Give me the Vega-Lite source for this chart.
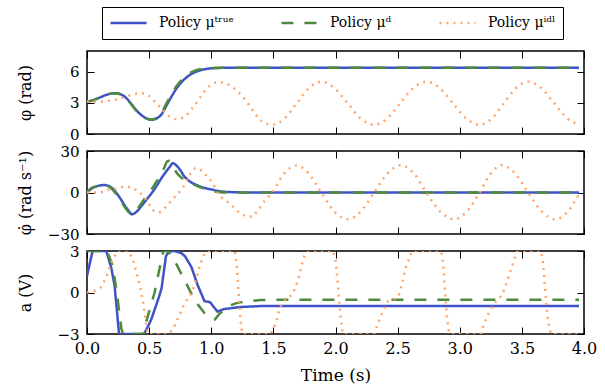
{
  "$schema": "https://vega.github.io/schema/vega-lite/v6.json",
  "background": "white",
  "padding": {"left": 16, "top": 6, "right": 5, "bottom": 3},
  "config": {
    "font": "DejaVu Serif, Liberation Serif, Times New Roman, serif",
    "view": {"stroke": "black", "strokeWidth": 1.5},
    "axis": {
      "grid": false, "domain": false, "ticks": true, "tickSize": -7, "tickColor": "black", "tickWidth": 1,
      "labelFont": "DejaVu Serif, Liberation Serif, Times New Roman, serif", "labelFontSize": 16, "labelColor": "black", "labelPadding": 15, "labelFlush": false,
      "titleFont": "DejaVu Serif, Liberation Serif, Times New Roman, serif", "titleFontSize": 16, "titleFontWeight": "normal", "titleColor": "black"
    },
    "axisY": {"labelFontSize": 15},
    "legend": {
      "symbolType": "stroke", "symbolSize": 1300, "symbolStrokeWidth": 2.5, "clipHeight": 18,
      "labelFont": "DejaVu Serif, Liberation Serif, Times New Roman, serif", "labelFontSize": 14, "labelColor": "black", "labelOffset": 11,
      "strokeColor": "black", "fillColor": "white", "padding": 7, "columnPadding": 46, "cornerRadius": 0
    }
  },
  "datasets": {
    "phi": [
      {"p":"Policy μᵗʳᵘᵉ","t":0,"v":3.14},{"p":"Policy μᵗʳᵘᵉ","t":0.05,"v":3.25},{"p":"Policy μᵗʳᵘᵉ","t":0.1,"v":3.5},{"p":"Policy μᵗʳᵘᵉ","t":0.15,"v":3.75},{"p":"Policy μᵗʳᵘᵉ","t":0.2,"v":3.9},{"p":"Policy μᵗʳᵘᵉ","t":0.24,"v":3.92},{"p":"Policy μᵗʳᵘᵉ","t":0.28,"v":3.78},{"p":"Policy μᵗʳᵘᵉ","t":0.32,"v":3.42},{"p":"Policy μᵗʳᵘᵉ","t":0.36,"v":2.85},{"p":"Policy μᵗʳᵘᵉ","t":0.4,"v":2.25},{"p":"Policy μᵗʳᵘᵉ","t":0.44,"v":1.8},{"p":"Policy μᵗʳᵘᵉ","t":0.48,"v":1.5},{"p":"Policy μᵗʳᵘᵉ","t":0.52,"v":1.38},{"p":"Policy μᵗʳᵘᵉ","t":0.56,"v":1.5},{"p":"Policy μᵗʳᵘᵉ","t":0.6,"v":1.9},{"p":"Policy μᵗʳᵘᵉ","t":0.64,"v":2.75},{"p":"Policy μᵗʳᵘᵉ","t":0.68,"v":3.6},{"p":"Policy μᵗʳᵘᵉ","t":0.72,"v":4.38},{"p":"Policy μᵗʳᵘᵉ","t":0.76,"v":4.98},{"p":"Policy μᵗʳᵘᵉ","t":0.8,"v":5.45},{"p":"Policy μᵗʳᵘᵉ","t":0.85,"v":5.85},{"p":"Policy μᵗʳᵘᵉ","t":0.9,"v":6.1},{"p":"Policy μᵗʳᵘᵉ","t":0.95,"v":6.25},{"p":"Policy μᵗʳᵘᵉ","t":1.0,"v":6.33},{"p":"Policy μᵗʳᵘᵉ","t":1.1,"v":6.38},{"p":"Policy μᵗʳᵘᵉ","t":1.2,"v":6.39},{"p":"Policy μᵗʳᵘᵉ","t":2.0,"v":6.39},{"p":"Policy μᵗʳᵘᵉ","t":3.0,"v":6.39},{"p":"Policy μᵗʳᵘᵉ","t":3.96,"v":6.39},
      {"p":"Policy μᵈ","t":0,"v":3.14},{"p":"Policy μᵈ","t":0.05,"v":3.27},{"p":"Policy μᵈ","t":0.1,"v":3.52},{"p":"Policy μᵈ","t":0.15,"v":3.77},{"p":"Policy μᵈ","t":0.2,"v":3.9},{"p":"Policy μᵈ","t":0.24,"v":3.9},{"p":"Policy μᵈ","t":0.28,"v":3.75},{"p":"Policy μᵈ","t":0.32,"v":3.38},{"p":"Policy μᵈ","t":0.36,"v":2.8},{"p":"Policy μᵈ","t":0.4,"v":2.2},{"p":"Policy μᵈ","t":0.44,"v":1.76},{"p":"Policy μᵈ","t":0.48,"v":1.48},{"p":"Policy μᵈ","t":0.52,"v":1.4},{"p":"Policy μᵈ","t":0.56,"v":1.55},{"p":"Policy μᵈ","t":0.6,"v":2.05},{"p":"Policy μᵈ","t":0.64,"v":2.95},{"p":"Policy μᵈ","t":0.68,"v":3.85},{"p":"Policy μᵈ","t":0.72,"v":4.6},{"p":"Policy μᵈ","t":0.76,"v":5.2},{"p":"Policy μᵈ","t":0.8,"v":5.65},{"p":"Policy μᵈ","t":0.85,"v":6.02},{"p":"Policy μᵈ","t":0.9,"v":6.22},{"p":"Policy μᵈ","t":0.95,"v":6.32},{"p":"Policy μᵈ","t":1.0,"v":6.37},{"p":"Policy μᵈ","t":1.1,"v":6.39},{"p":"Policy μᵈ","t":2.0,"v":6.39},{"p":"Policy μᵈ","t":3.0,"v":6.39},{"p":"Policy μᵈ","t":3.96,"v":6.39},
      {"p":"Policy μⁱᵈˡ","t":0,"v":3.14},{"p":"Policy μⁱᵈˡ","t":0.06,"v":3.13},{"p":"Policy μⁱᵈˡ","t":0.12,"v":3.12},{"p":"Policy μⁱᵈˡ","t":0.188,"v":3.21},{"p":"Policy μⁱᵈˡ","t":0.249,"v":3.37},{"p":"Policy μⁱᵈˡ","t":0.316,"v":3.6},{"p":"Policy μⁱᵈˡ","t":0.37,"v":3.82},{"p":"Policy μⁱᵈˡ","t":0.437,"v":3.92},{"p":"Policy μⁱᵈˡ","t":0.498,"v":3.69},{"p":"Policy μⁱᵈˡ","t":0.544,"v":3.15},{"p":"Policy μⁱᵈˡ","t":0.589,"v":2.57},{"p":"Policy μⁱᵈˡ","t":0.632,"v":2.03},{"p":"Policy μⁱᵈˡ","t":0.686,"v":1.54},{"p":"Policy μⁱᵈˡ","t":0.72,"v":1.42},{"p":"Policy μⁱᵈˡ","t":0.75,"v":1.47},{"p":"Policy μⁱᵈˡ","t":0.798,"v":1.77},{"p":"Policy μⁱᵈˡ","t":0.839,"v":2.35},{"p":"Policy μⁱᵈˡ","t":0.879,"v":2.99},{"p":"Policy μⁱᵈˡ","t":0.911,"v":3.53},{"p":"Policy μⁱᵈˡ","t":0.951,"v":4.21},{"p":"Policy μⁱᵈˡ","t":1.0,"v":4.75},{"p":"Policy μⁱᵈˡ","t":1.058,"v":5.01},{"p":"Policy μⁱᵈˡ","t":1.12,"v":4.88},{"p":"Policy μⁱᵈˡ","t":1.173,"v":4.5},{"p":"Policy μⁱᵈˡ","t":1.219,"v":4.01},{"p":"Policy μⁱᵈˡ","t":1.265,"v":3.43},{"p":"Policy μⁱᵈˡ","t":1.302,"v":2.82},{"p":"Policy μⁱᵈˡ","t":1.34,"v":2.18},{"p":"Policy μⁱᵈˡ","t":1.38,"v":1.54},{"p":"Policy μⁱᵈˡ","t":1.43,"v":1.05},{"p":"Policy μⁱᵈˡ","t":1.49,"v":0.88},{"p":"Policy μⁱᵈˡ","t":1.589,"v":1.49},{"p":"Policy μⁱᵈˡ","t":1.688,"v":2.96},{"p":"Policy μⁱᵈˡ","t":1.786,"v":4.43},{"p":"Policy μⁱᵈˡ","t":1.885,"v":5.04},{"p":"Policy μⁱᵈˡ","t":1.991,"v":4.43},{"p":"Policy μⁱᵈˡ","t":2.098,"v":2.96},{"p":"Policy μⁱᵈˡ","t":2.204,"v":1.49},{"p":"Policy μⁱᵈˡ","t":2.31,"v":0.88},{"p":"Policy μⁱᵈˡ","t":2.415,"v":1.49},{"p":"Policy μⁱᵈˡ","t":2.52,"v":2.96},{"p":"Policy μⁱᵈˡ","t":2.625,"v":4.43},{"p":"Policy μⁱᵈˡ","t":2.73,"v":5.04},{"p":"Policy μⁱᵈˡ","t":2.838,"v":4.43},{"p":"Policy μⁱᵈˡ","t":2.945,"v":2.96},{"p":"Policy μⁱᵈˡ","t":3.053,"v":1.49},{"p":"Policy μⁱᵈˡ","t":3.16,"v":0.88},{"p":"Policy μⁱᵈˡ","t":3.258,"v":1.49},{"p":"Policy μⁱᵈˡ","t":3.355,"v":2.96},{"p":"Policy μⁱᵈˡ","t":3.453,"v":4.43},{"p":"Policy μⁱᵈˡ","t":3.55,"v":5.04},{"p":"Policy μⁱᵈˡ","t":3.655,"v":4.43},{"p":"Policy μⁱᵈˡ","t":3.76,"v":2.97},{"p":"Policy μⁱᵈˡ","t":3.865,"v":1.5},{"p":"Policy μⁱᵈˡ","t":3.96,"v":0.9}
    ],
    "dphi": [
      {"p":"Policy μᵗʳᵘᵉ","t":0,"v":0},{"p":"Policy μᵗʳᵘᵉ","t":0.04,"v":3},{"p":"Policy μᵗʳᵘᵉ","t":0.08,"v":4.6},{"p":"Policy μᵗʳᵘᵉ","t":0.14,"v":5.4},{"p":"Policy μᵗʳᵘᵉ","t":0.18,"v":4.5},{"p":"Policy μᵗʳᵘᵉ","t":0.22,"v":1.5},{"p":"Policy μᵗʳᵘᵉ","t":0.26,"v":-3.2},{"p":"Policy μᵗʳᵘᵉ","t":0.3,"v":-8.8},{"p":"Policy μᵗʳᵘᵉ","t":0.34,"v":-13.8},{"p":"Policy μᵗʳᵘᵉ","t":0.36,"v":-15.8},{"p":"Policy μᵗʳᵘᵉ","t":0.4,"v":-13.8},{"p":"Policy μᵗʳᵘᵉ","t":0.44,"v":-9.6},{"p":"Policy μᵗʳᵘᵉ","t":0.48,"v":-5},{"p":"Policy μᵗʳᵘᵉ","t":0.52,"v":-0.5},{"p":"Policy μᵗʳᵘᵉ","t":0.56,"v":4.7},{"p":"Policy μᵗʳᵘᵉ","t":0.6,"v":10.5},{"p":"Policy μᵗʳᵘᵉ","t":0.64,"v":15.5},{"p":"Policy μᵗʳᵘᵉ","t":0.67,"v":19},{"p":"Policy μᵗʳᵘᵉ","t":0.69,"v":21.2},{"p":"Policy μᵗʳᵘᵉ","t":0.72,"v":19.5},{"p":"Policy μᵗʳᵘᵉ","t":0.75,"v":16.3},{"p":"Policy μᵗʳᵘᵉ","t":0.78,"v":12},{"p":"Policy μᵗʳᵘᵉ","t":0.82,"v":8.5},{"p":"Policy μᵗʳᵘᵉ","t":0.88,"v":5.5},{"p":"Policy μᵗʳᵘᵉ","t":0.95,"v":3.2},{"p":"Policy μᵗʳᵘᵉ","t":1.0,"v":2.2},{"p":"Policy μᵗʳᵘᵉ","t":1.1,"v":0.6},{"p":"Policy μᵗʳᵘᵉ","t":1.2,"v":0.15},{"p":"Policy μᵗʳᵘᵉ","t":1.3,"v":0},{"p":"Policy μᵗʳᵘᵉ","t":2.0,"v":0},{"p":"Policy μᵗʳᵘᵉ","t":3.0,"v":0},{"p":"Policy μᵗʳᵘᵉ","t":3.96,"v":0},
      {"p":"Policy μᵈ","t":0,"v":0},{"p":"Policy μᵈ","t":0.04,"v":3.5},{"p":"Policy μᵈ","t":0.08,"v":4.4},{"p":"Policy μᵈ","t":0.14,"v":5},{"p":"Policy μᵈ","t":0.18,"v":4},{"p":"Policy μᵈ","t":0.22,"v":0.5},{"p":"Policy μᵈ","t":0.26,"v":-4.5},{"p":"Policy μᵈ","t":0.3,"v":-10},{"p":"Policy μᵈ","t":0.34,"v":-14.5},{"p":"Policy μᵈ","t":0.36,"v":-15.5},{"p":"Policy μᵈ","t":0.39,"v":-14},{"p":"Policy μᵈ","t":0.43,"v":-8.8},{"p":"Policy μᵈ","t":0.47,"v":-3.8},{"p":"Policy μᵈ","t":0.51,"v":1},{"p":"Policy μᵈ","t":0.55,"v":6.5},{"p":"Policy μᵈ","t":0.59,"v":12.5},{"p":"Policy μᵈ","t":0.62,"v":17.5},{"p":"Policy μᵈ","t":0.645,"v":22.5},{"p":"Policy μᵈ","t":0.665,"v":23},{"p":"Policy μᵈ","t":0.69,"v":19},{"p":"Policy μᵈ","t":0.72,"v":14.5},{"p":"Policy μᵈ","t":0.75,"v":11.5},{"p":"Policy μᵈ","t":0.8,"v":8.3},{"p":"Policy μᵈ","t":0.86,"v":5.8},{"p":"Policy μᵈ","t":0.92,"v":3.5},{"p":"Policy μᵈ","t":1.0,"v":1.2},{"p":"Policy μᵈ","t":1.08,"v":0.2},{"p":"Policy μᵈ","t":1.15,"v":0},{"p":"Policy μᵈ","t":2.0,"v":0},{"p":"Policy μᵈ","t":3.0,"v":0},{"p":"Policy μᵈ","t":3.96,"v":0},
      {"p":"Policy μⁱᵈˡ","t":0,"v":0},{"p":"Policy μⁱᵈˡ","t":0.061,"v":0},{"p":"Policy μⁱᵈˡ","t":0.129,"v":0.3},{"p":"Policy μⁱᵈˡ","t":0.182,"v":2.3},{"p":"Policy μⁱᵈˡ","t":0.249,"v":2.8},{"p":"Policy μⁱᵈˡ","t":0.308,"v":4.4},{"p":"Policy μⁱᵈˡ","t":0.37,"v":3.0},{"p":"Policy μⁱᵈˡ","t":0.424,"v":0.1},{"p":"Policy μⁱᵈˡ","t":0.472,"v":-4.7},{"p":"Policy μⁱᵈˡ","t":0.536,"v":-13.1},{"p":"Policy μⁱᵈˡ","t":0.57,"v":-14.5},{"p":"Policy μⁱᵈˡ","t":0.6,"v":-13.5},{"p":"Policy μⁱᵈˡ","t":0.638,"v":-10},{"p":"Policy μⁱᵈˡ","t":0.686,"v":-5.2},{"p":"Policy μⁱᵈˡ","t":0.73,"v":-1.1},{"p":"Policy μⁱᵈˡ","t":0.777,"v":4.4},{"p":"Policy μⁱᵈˡ","t":0.831,"v":13.3},{"p":"Policy μⁱᵈˡ","t":0.874,"v":17.6},{"p":"Policy μⁱᵈˡ","t":0.924,"v":15.7},{"p":"Policy μⁱᵈˡ","t":0.965,"v":11.6},{"p":"Policy μⁱᵈˡ","t":1.007,"v":7.3},{"p":"Policy μⁱᵈˡ","t":1.053,"v":-0.7},{"p":"Policy μⁱᵈˡ","t":1.12,"v":-6},{"p":"Policy μⁱᵈˡ","t":1.173,"v":-10},{"p":"Policy μⁱᵈˡ","t":1.227,"v":-14.4},{"p":"Policy μⁱᵈˡ","t":1.28,"v":-17},{"p":"Policy μⁱᵈˡ","t":1.329,"v":-17.5},{"p":"Policy μⁱᵈˡ","t":1.374,"v":-13.1},{"p":"Policy μⁱᵈˡ","t":1.43,"v":-6},{"p":"Policy μⁱᵈˡ","t":1.49,"v":0},{"p":"Policy μⁱᵈˡ","t":1.587,"v":13.8},{"p":"Policy μⁱᵈˡ","t":1.683,"v":19.5},{"p":"Policy μⁱᵈˡ","t":1.784,"v":13.8},{"p":"Policy μⁱᵈˡ","t":1.885,"v":0},{"p":"Policy μⁱᵈˡ","t":1.99,"v":-13.7},{"p":"Policy μⁱᵈˡ","t":2.098,"v":-19.3},{"p":"Policy μⁱᵈˡ","t":2.204,"v":-13.7},{"p":"Policy μⁱᵈˡ","t":2.31,"v":0},{"p":"Policy μⁱᵈˡ","t":2.42,"v":13.9},{"p":"Policy μⁱᵈˡ","t":2.53,"v":19.7},{"p":"Policy μⁱᵈˡ","t":2.63,"v":13.9},{"p":"Policy μⁱᵈˡ","t":2.73,"v":0},{"p":"Policy μⁱᵈˡ","t":2.842,"v":-13.7},{"p":"Policy μⁱᵈˡ","t":2.955,"v":-19.4},{"p":"Policy μⁱᵈˡ","t":3.057,"v":-13.7},{"p":"Policy μⁱᵈˡ","t":3.16,"v":0},{"p":"Policy μⁱᵈˡ","t":3.25,"v":13.9},{"p":"Policy μⁱᵈˡ","t":3.34,"v":19.7},{"p":"Policy μⁱᵈˡ","t":3.445,"v":13.9},{"p":"Policy μⁱᵈˡ","t":3.55,"v":0},{"p":"Policy μⁱᵈˡ","t":3.66,"v":-13.7},{"p":"Policy μⁱᵈˡ","t":3.77,"v":-19.4},{"p":"Policy μⁱᵈˡ","t":3.87,"v":-13.7},{"p":"Policy μⁱᵈˡ","t":3.96,"v":-1}
    ],
    "a": [
      {"p":"Policy μᵗʳᵘᵉ","t":0,"v":1.2},{"p":"Policy μᵗʳᵘᵉ","t":0.045,"v":3},{"p":"Policy μᵗʳᵘᵉ","t":0.155,"v":3},{"p":"Policy μᵗʳᵘᵉ","t":0.195,"v":1.8},{"p":"Policy μᵗʳᵘᵉ","t":0.222,"v":0.5},{"p":"Policy μᵗʳᵘᵉ","t":0.258,"v":-3},{"p":"Policy μᵗʳᵘᵉ","t":0.46,"v":-3},{"p":"Policy μᵗʳᵘᵉ","t":0.515,"v":-2},{"p":"Policy μᵗʳᵘᵉ","t":0.58,"v":-0.3},{"p":"Policy μᵗʳᵘᵉ","t":0.6,"v":0.3},{"p":"Policy μᵗʳᵘᵉ","t":0.635,"v":2.6},{"p":"Policy μᵗʳᵘᵉ","t":0.655,"v":2.95},{"p":"Policy μᵗʳᵘᵉ","t":0.7,"v":3},{"p":"Policy μᵗʳᵘᵉ","t":0.76,"v":2.85},{"p":"Policy μᵗʳᵘᵉ","t":0.79,"v":2.6},{"p":"Policy μᵗʳᵘᵉ","t":0.84,"v":1.85},{"p":"Policy μᵗʳᵘᵉ","t":0.89,"v":0.55},{"p":"Policy μᵗʳᵘᵉ","t":0.945,"v":-0.62},{"p":"Policy μᵗʳᵘᵉ","t":0.99,"v":-0.7},{"p":"Policy μᵗʳᵘᵉ","t":1.05,"v":-1.38},{"p":"Policy μᵗʳᵘᵉ","t":1.1,"v":-1.2},{"p":"Policy μᵗʳᵘᵉ","t":1.15,"v":-1.15},{"p":"Policy μᵗʳᵘᵉ","t":1.23,"v":-1.05},{"p":"Policy μᵗʳᵘᵉ","t":1.4,"v":-0.98},{"p":"Policy μᵗʳᵘᵉ","t":1.6,"v":-0.97},{"p":"Policy μᵗʳᵘᵉ","t":3.96,"v":-0.97},
      {"p":"Policy μᵈ","t":0,"v":3},{"p":"Policy μᵈ","t":0.16,"v":3},{"p":"Policy μᵈ","t":0.2,"v":2.1},{"p":"Policy μᵈ","t":0.236,"v":0.3},{"p":"Policy μᵈ","t":0.276,"v":-2.6},{"p":"Policy μᵈ","t":0.29,"v":-3},{"p":"Policy μᵈ","t":0.455,"v":-3},{"p":"Policy μᵈ","t":0.477,"v":-2.1},{"p":"Policy μᵈ","t":0.544,"v":0},{"p":"Policy μᵈ","t":0.6,"v":2.4},{"p":"Policy μᵈ","t":0.615,"v":3},{"p":"Policy μᵈ","t":0.65,"v":3},{"p":"Policy μᵈ","t":0.705,"v":2.3},{"p":"Policy μᵈ","t":0.785,"v":0.9},{"p":"Policy μᵈ","t":0.866,"v":-0.56},{"p":"Policy μᵈ","t":0.946,"v":-1.5},{"p":"Policy μᵈ","t":1.0,"v":-1.9},{"p":"Policy μᵈ","t":1.03,"v":-1.95},{"p":"Policy μᵈ","t":1.06,"v":-1.6},{"p":"Policy μᵈ","t":1.13,"v":-1.0},{"p":"Policy μᵈ","t":1.21,"v":-0.75},{"p":"Policy μᵈ","t":1.3,"v":-0.62},{"p":"Policy μᵈ","t":1.4,"v":-0.55},{"p":"Policy μᵈ","t":1.6,"v":-0.52},{"p":"Policy μᵈ","t":3.96,"v":-0.52},
      {"p":"Policy μⁱᵈˡ","t":0,"v":0},{"p":"Policy μⁱᵈˡ","t":0.06,"v":0.1},{"p":"Policy μⁱᵈˡ","t":0.11,"v":0.35},{"p":"Policy μⁱᵈˡ","t":0.15,"v":1.0},{"p":"Policy μⁱᵈˡ","t":0.19,"v":2.0},{"p":"Policy μⁱᵈˡ","t":0.22,"v":2.6},{"p":"Policy μⁱᵈˡ","t":0.245,"v":3},{"p":"Policy μⁱᵈˡ","t":0.33,"v":3},{"p":"Policy μⁱᵈˡ","t":0.37,"v":2.4},{"p":"Policy μⁱᵈˡ","t":0.4,"v":1.4},{"p":"Policy μⁱᵈˡ","t":0.43,"v":0.3},{"p":"Policy μⁱᵈˡ","t":0.455,"v":-0.9},{"p":"Policy μⁱᵈˡ","t":0.475,"v":-2.2},{"p":"Policy μⁱᵈˡ","t":0.49,"v":-3},{"p":"Policy μⁱᵈˡ","t":0.66,"v":-3},{"p":"Policy μⁱᵈˡ","t":0.7,"v":-2.5},{"p":"Policy μⁱᵈˡ","t":0.74,"v":-1.7},{"p":"Policy μⁱᵈˡ","t":0.78,"v":-0.9},{"p":"Policy μⁱᵈˡ","t":0.81,"v":-0.45},{"p":"Policy μⁱᵈˡ","t":0.84,"v":-0.1},{"p":"Policy μⁱᵈˡ","t":0.87,"v":0.7},{"p":"Policy μⁱᵈˡ","t":0.9,"v":1.7},{"p":"Policy μⁱᵈˡ","t":0.93,"v":2.5},{"p":"Policy μⁱᵈˡ","t":0.96,"v":3},{"p":"Policy μⁱᵈˡ","t":1.19,"v":3},{"p":"Policy μⁱᵈˡ","t":1.205,"v":2},{"p":"Policy μⁱᵈˡ","t":1.22,"v":0},{"p":"Policy μⁱᵈˡ","t":1.235,"v":-2},{"p":"Policy μⁱᵈˡ","t":1.25,"v":-3},{"p":"Policy μⁱᵈˡ","t":1.48,"v":-3},{"p":"Policy μⁱᵈˡ","t":1.51,"v":-2.4},{"p":"Policy μⁱᵈˡ","t":1.53,"v":-1.9},{"p":"Policy μⁱᵈˡ","t":1.545,"v":-1.35},{"p":"Policy μⁱᵈˡ","t":1.565,"v":-0.85},{"p":"Policy μⁱᵈˡ","t":1.61,"v":-0.42},{"p":"Policy μⁱᵈˡ","t":1.655,"v":-0.13},{"p":"Policy μⁱᵈˡ","t":1.68,"v":0.42},{"p":"Policy μⁱᵈˡ","t":1.7,"v":0.95},{"p":"Policy μⁱᵈˡ","t":1.715,"v":1.5},{"p":"Policy μⁱᵈˡ","t":1.73,"v":2.05},{"p":"Policy μⁱᵈˡ","t":1.75,"v":2.65},{"p":"Policy μⁱᵈˡ","t":1.78,"v":3},{"p":"Policy μⁱᵈˡ","t":1.98,"v":3},{"p":"Policy μⁱᵈˡ","t":2.0,"v":2.4},{"p":"Policy μⁱᵈˡ","t":2.02,"v":0.5},{"p":"Policy μⁱᵈˡ","t":2.035,"v":-1.2},{"p":"Policy μⁱᵈˡ","t":2.05,"v":-2.5},{"p":"Policy μⁱᵈˡ","t":2.06,"v":-3},{"p":"Policy μⁱᵈˡ","t":2.31,"v":-3},{"p":"Policy μⁱᵈˡ","t":2.34,"v":-2.3},{"p":"Policy μⁱᵈˡ","t":2.366,"v":-1.7},{"p":"Policy μⁱᵈˡ","t":2.393,"v":-1.13},{"p":"Policy μⁱᵈˡ","t":2.42,"v":-0.66},{"p":"Policy μⁱᵈˡ","t":2.47,"v":-0.5},{"p":"Policy μⁱᵈˡ","t":2.51,"v":-0.18},{"p":"Policy μⁱᵈˡ","t":2.54,"v":0.78},{"p":"Policy μⁱᵈˡ","t":2.567,"v":1.86},{"p":"Policy μⁱᵈˡ","t":2.594,"v":2.46},{"p":"Policy μⁱᵈˡ","t":2.615,"v":3},{"p":"Policy μⁱᵈˡ","t":2.85,"v":3},{"p":"Policy μⁱᵈˡ","t":2.865,"v":2.2},{"p":"Policy μⁱᵈˡ","t":2.88,"v":0.3},{"p":"Policy μⁱᵈˡ","t":2.895,"v":-1.6},{"p":"Policy μⁱᵈˡ","t":2.91,"v":-2.7},{"p":"Policy μⁱᵈˡ","t":2.925,"v":-3},{"p":"Policy μⁱᵈˡ","t":3.17,"v":-3},{"p":"Policy μⁱᵈˡ","t":3.197,"v":-2.2},{"p":"Policy μⁱᵈˡ","t":3.25,"v":-1.16},{"p":"Policy μⁱᵈˡ","t":3.3,"v":-0.56},{"p":"Policy μⁱᵈˡ","t":3.34,"v":-0.2},{"p":"Policy μⁱᵈˡ","t":3.38,"v":0.76},{"p":"Policy μⁱᵈˡ","t":3.41,"v":1.6},{"p":"Policy μⁱᵈˡ","t":3.44,"v":2.44},{"p":"Policy μⁱᵈˡ","t":3.465,"v":3},{"p":"Policy μⁱᵈˡ","t":3.655,"v":3},{"p":"Policy μⁱᵈˡ","t":3.67,"v":2.2},{"p":"Policy μⁱᵈˡ","t":3.685,"v":0.5},{"p":"Policy μⁱᵈˡ","t":3.7,"v":-1.2},{"p":"Policy μⁱᵈˡ","t":3.715,"v":-2.3},{"p":"Policy μⁱᵈˡ","t":3.735,"v":-3},{"p":"Policy μⁱᵈˡ","t":3.96,"v":-3}
    ]
  },
  "spacing": 17,
  "bounds": "flush",
  "vconcat": [
    {
      "width": 497, "height": 83,
      "data": {"name": "phi"},
      "layer": [
        {
          "mark": {"type": "line", "interpolate": "monotone", "strokeWidth": 2.5, "clip": true},
          "encoding": {
            "x": {"field": "t", "type": "quantitative", "scale": {"domain": [0, 4], "nice": false}, "axis": {"orient": "bottom", "values": [0,0.5,1,1.5,2,2.5,3,3.5,4], "labels": false, "title": null}},
            "y": {"field": "v", "type": "quantitative", "scale": {"domain": [0, 8], "nice": false}, "axis": {"orient": "left", "values": [0,3,6], "title": "φ (rad)", "titleX": -62, "titleY": 41.5, "titleBaseline": "middle", "titleAngle": -90}},
            "color": {"field": "p", "type": "nominal", "sort": null, "scale": {"domain": ["Policy μᵗʳᵘᵉ","Policy μᵈ","Policy μⁱᵈˡ"], "range": ["#3f53c6","#4b8b3b","#fda66b"]}, "legend": {"title": null, "orient": "none", "legendX": 15, "legendY": -44, "direction": "horizontal", "columns": 3}},
            "strokeDash": {"field": "p", "type": "nominal", "sort": null, "scale": {"domain": ["Policy μᵗʳᵘᵉ","Policy μᵈ","Policy μⁱᵈˡ"], "range": [[1,0],[12,11],[2,5]]}, "legend": {"title": null, "orient": "none", "legendX": 15, "legendY": -44, "direction": "horizontal", "columns": 3}}
          }
        },
        {
          "mark": {"type": "point", "opacity": 0},
          "encoding": {
            "x": {"field": "t", "type": "quantitative", "axis": {"orient": "top", "values": [0,0.5,1,1.5,2,2.5,3,3.5,4], "labels": false, "title": null}},
            "y": {"field": "v", "type": "quantitative", "axis": {"orient": "right", "values": [0,3,6], "labels": false, "title": null}}
          }
        }
      ],
      "resolve": {"axis": {"x": "independent", "y": "independent"}}
    },
    {
      "width": 497, "height": 83,
      "data": {"name": "dphi"},
      "layer": [
        {
          "mark": {"type": "line", "interpolate": "monotone", "strokeWidth": 2.5, "clip": true},
          "encoding": {
            "x": {"field": "t", "type": "quantitative", "scale": {"domain": [0, 4], "nice": false}, "axis": {"orient": "bottom", "values": [0,0.5,1,1.5,2,2.5,3,3.5,4], "labels": false, "title": null}},
            "y": {"field": "v", "type": "quantitative", "scale": {"domain": [-30, 30], "nice": false}, "axis": {"orient": "left", "values": [-30,0,30], "title": "φ̇ (rad s⁻¹)", "titleX": -62, "titleY": 41.5, "titleBaseline": "middle", "titleAngle": -90}},
            "color": {"field": "p", "type": "nominal", "sort": null, "scale": {"domain": ["Policy μᵗʳᵘᵉ","Policy μᵈ","Policy μⁱᵈˡ"], "range": ["#3f53c6","#4b8b3b","#fda66b"]}, "legend": {"title": null, "orient": "none", "legendX": 15, "legendY": -44, "direction": "horizontal", "columns": 3}},
            "strokeDash": {"field": "p", "type": "nominal", "sort": null, "scale": {"domain": ["Policy μᵗʳᵘᵉ","Policy μᵈ","Policy μⁱᵈˡ"], "range": [[1,0],[12,11],[2,5]]}, "legend": {"title": null, "orient": "none", "legendX": 15, "legendY": -44, "direction": "horizontal", "columns": 3}}
          }
        },
        {
          "mark": {"type": "point", "opacity": 0},
          "encoding": {
            "x": {"field": "t", "type": "quantitative", "axis": {"orient": "top", "values": [0,0.5,1,1.5,2,2.5,3,3.5,4], "labels": false, "title": null}},
            "y": {"field": "v", "type": "quantitative", "axis": {"orient": "right", "values": [-30,0,30], "labels": false, "title": null}}
          }
        }
      ],
      "resolve": {"axis": {"x": "independent", "y": "independent"}}
    },
    {
      "width": 497, "height": 83,
      "data": {"name": "a"},
      "layer": [
        {
          "mark": {"type": "line", "strokeWidth": 2.5, "clip": true},
          "encoding": {
            "x": {"field": "t", "type": "quantitative", "scale": {"domain": [0, 4], "nice": false}, "axis": {"orient": "bottom", "values": [0,0.5,1,1.5,2,2.5,3,3.5,4], "format": ".1f", "labelPadding": 13, "title": "Time (s)", "titleY": 46, "titleBaseline": "alphabetic", "titleFontSize": 17}},
            "y": {"field": "v", "type": "quantitative", "scale": {"domain": [-3, 3], "nice": false}, "axis": {"orient": "left", "values": [-3,0,3], "title": "a (V)", "titleX": -62, "titleY": 41.5, "titleBaseline": "middle", "titleAngle": -90}},
            "color": {"field": "p", "type": "nominal", "sort": null, "scale": {"domain": ["Policy μᵗʳᵘᵉ","Policy μᵈ","Policy μⁱᵈˡ"], "range": ["#3f53c6","#4b8b3b","#fda66b"]}, "legend": {"title": null, "orient": "none", "legendX": 15, "legendY": -44, "direction": "horizontal", "columns": 3}},
            "strokeDash": {"field": "p", "type": "nominal", "sort": null, "scale": {"domain": ["Policy μᵗʳᵘᵉ","Policy μᵈ","Policy μⁱᵈˡ"], "range": [[1,0],[12,11],[2,5]]}, "legend": {"title": null, "orient": "none", "legendX": 15, "legendY": -44, "direction": "horizontal", "columns": 3}}
          }
        },
        {
          "mark": {"type": "point", "opacity": 0},
          "encoding": {
            "x": {"field": "t", "type": "quantitative", "axis": {"orient": "top", "values": [0,0.5,1,1.5,2,2.5,3,3.5,4], "labels": false, "title": null}},
            "y": {"field": "v", "type": "quantitative", "axis": {"orient": "right", "values": [-3,0,3], "labels": false, "title": null}}
          }
        }
      ],
      "resolve": {"axis": {"x": "independent", "y": "independent"}}
    }
  ]
}
